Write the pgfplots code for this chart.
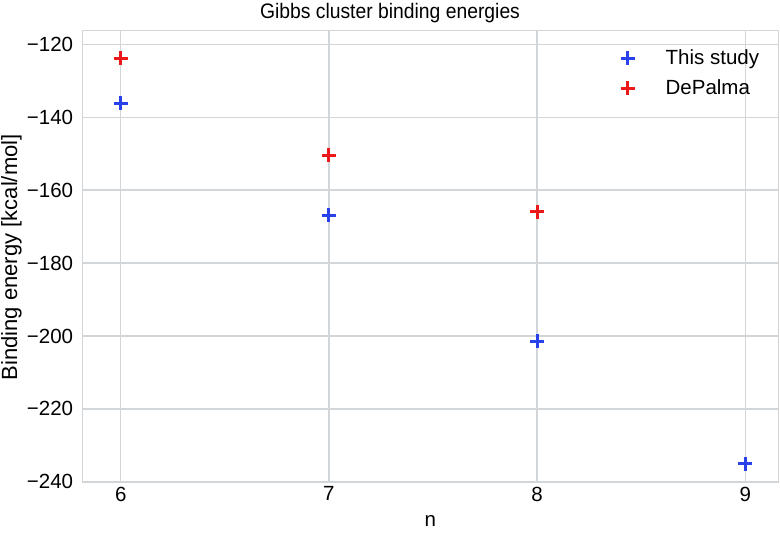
\documentclass[border=0pt]{standalone}
\usepackage{fontspec}
\setmainfont{Liberation Sans}
\newfontfamily\titlefont[FakeStretch=0.92]{Liberation Sans}
\usepackage{pgfplots}
\pgfplotsset{compat=1.18}
\definecolor{gridc}{RGB}{210,214,216}
\definecolor{myblue}{RGB}{40,65,235}
\definecolor{myred}{RGB}{235,25,25}
\newcommand{\f}{\fontsize{20.5}{24.6}\selectfont}
\begin{document}
\begin{tikzpicture}
\begin{axis}[
  scale only axis,
  width=696.2pt, height=451.8pt,
  xmin=5.8155, xmax=9.159, ymin=-240.2, ymax=-116.27,
  xtick={6,7,8,9}, xticklabels={6,7,8,9},
  ytick={-240,-220,-200,-180,-160,-140,-120},
  yticklabels={−240,−220,−200,−180,−160,−140,−120},
  grid=major,
  major grid style={gridc, line width=1.4pt},
  axis line style={gridc, line width=1.4pt},
  tick style={draw=none},
  tick label style={font=\f},
  yticklabel style={inner sep=0pt, anchor=east, xshift=-9pt},
  xticklabel style={inner sep=0pt, anchor=north, yshift=-4pt},
  xlabel={n},
  ylabel={Binding energy [kcal/mol]},
  xlabel style={font=\f, at={(axis description cs:0.5,-0.0985)}, anchor=base, inner sep=0pt},
  ylabel style={font=\fontsize{22}{26}\selectfont, at={(axis description cs:-0.0935,0.4985)}, anchor=base, inner sep=0pt},
  every axis title shift=0pt,
  title={Gibbs cluster binding energies},
  title style={font=\titlefont\fontsize{21}{25}\selectfont, at={(axis description cs:0.442,1.0274)}, anchor=base, inner sep=0pt},
  legend style={draw=none, fill=none, font=\f, inner sep=0pt, outer sep=0pt,
    at={(axis description cs:0.7733,0.9721)}, anchor=north west,
    nodes={inner sep=0pt}, row sep=0pt, column sep=0pt, cells={anchor=west}},
  legend image code/.code={\path[draw=none,fill=none] (-7pt,-15pt) rectangle (38pt,15pt);\draw[only marks] plot coordinates {(0pt,0pt)};},
]
\addplot[only marks, mark=+, mark size=7pt, line width=3pt, color=myblue]
  coordinates {(6,-136.2) (7,-166.9) (8,-201.5) (9,-235.0)};
\addlegendentry{This study}
\addplot[only marks, mark=+, mark size=7pt, line width=3pt, color=myred]
  coordinates {(6,-123.8) (7,-150.5) (8,-166.0)};
\addlegendentry{DePalma}
\coordinate (O) at (rel axis cs:0,0);
\end{axis}
\pgfresetboundingbox
\path (O) ++(-82.3pt,-50.5pt) rectangle ++(780pt,533pt);
\end{tikzpicture}
\end{document}
